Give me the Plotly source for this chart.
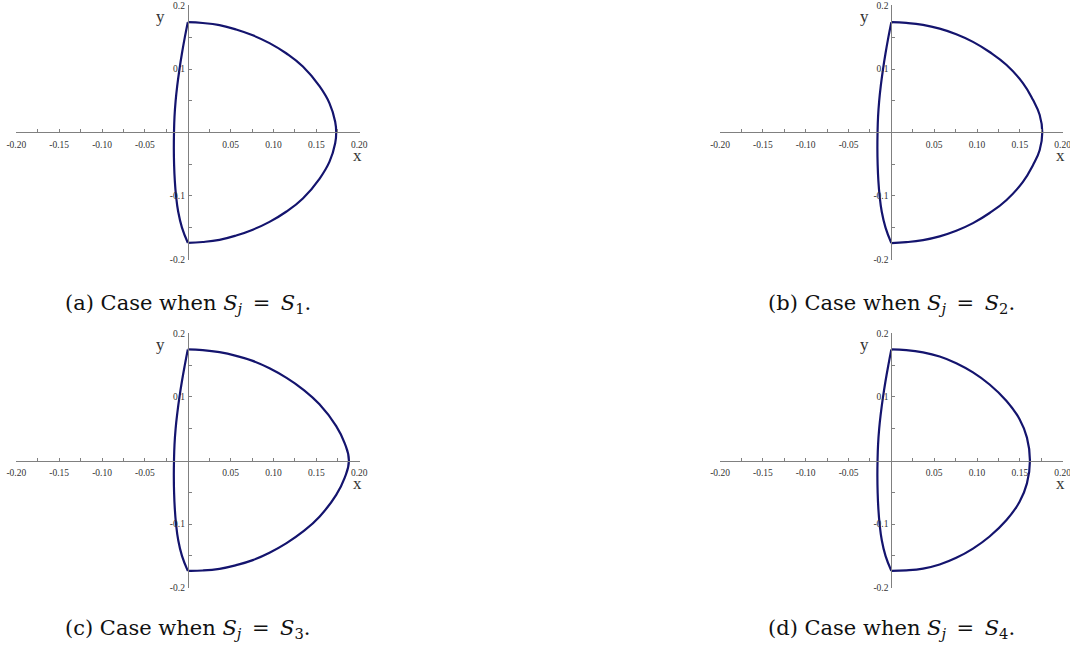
import plotly.graph_objects as go

# ---------------- data ----------------
# Panel (a): S_j = S_1
a_right_x = [0.0, 0.0175, 0.0370, 0.0564, 0.0758, 0.0953, 0.1147, 0.1342, 0.1536, 0.1653, 0.1719, 0.1731,
             0.1719, 0.1653, 0.1536, 0.1342, 0.1147, 0.0953, 0.0758, 0.0564, 0.0370, 0.0175, 0.0]
a_right_y = [0.174, 0.1727, 0.1693, 0.1625, 0.1533, 0.1410, 0.1250, 0.1040, 0.0730, 0.0460, 0.0170, 0.0,
             -0.0170, -0.0460, -0.0730, -0.1040, -0.1250, -0.1410, -0.1533, -0.1625, -0.1693, -0.1727, -0.174]
a_left_x = [0.0, -0.0035, -0.0068, -0.0097, -0.0122, -0.0142, -0.0155, -0.0161, -0.0163, -0.0160, -0.0152,
            -0.0137, -0.0112, -0.0068, 0.0]
a_left_y = [0.174, 0.15, 0.125, 0.10, 0.075, 0.05, 0.025, 0.0, -0.025, -0.05, -0.075, -0.10, -0.125, -0.15, -0.174]

# Panel (b): S_j = S_2
b_right_x = [0.0, 0.0175, 0.0370, 0.0564, 0.0758, 0.0953, 0.1147, 0.1342, 0.1536, 0.1653, 0.1731, 0.1762,
             0.1731, 0.1653, 0.1536, 0.1342, 0.1147, 0.0953, 0.0758, 0.0564, 0.0370, 0.0175, 0.0]
b_right_y = [0.174, 0.1728, 0.1697, 0.1638, 0.1550, 0.1430, 0.1270, 0.1068, 0.0780, 0.0515, 0.0279, 0.0,
             -0.0279, -0.0515, -0.0780, -0.1068, -0.1270, -0.1430, -0.1550, -0.1638, -0.1697, -0.1730, -0.1745]
b_left_x = [0.0, -0.0035, -0.0068, -0.0097, -0.0122, -0.0142, -0.0155, -0.0161, -0.0163, -0.0160, -0.0152,
            -0.0137, -0.0112, -0.0068, 0.0]
b_left_y = [0.174, 0.15, 0.125, 0.10, 0.075, 0.05, 0.025, 0.0, -0.025, -0.05, -0.075, -0.10, -0.125, -0.15, -0.1745]

# Panel (c): S_j = S_3
c_right_x = [0.0, 0.0175, 0.0370, 0.0564, 0.0758, 0.0953, 0.1147, 0.1342, 0.1536, 0.1731, 0.1828, 0.1879,
             0.1828, 0.1731, 0.1536, 0.1342, 0.1147, 0.0953, 0.0758, 0.0564, 0.0370, 0.0175, 0.0]
c_right_y = [0.1746, 0.1735, 0.1703, 0.1646, 0.1567, 0.1451, 0.1304, 0.1120, 0.0883, 0.0541, 0.0278, 0.0,
             -0.0278, -0.0541, -0.0883, -0.1120, -0.1304, -0.1451, -0.1567, -0.1646, -0.1703, -0.1730, -0.1735]
c_left_x = [0.0, -0.0035, -0.0068, -0.0097, -0.0122, -0.0142, -0.0155, -0.0161, -0.0163, -0.0160, -0.0152,
            -0.0137, -0.0112, -0.0068, 0.0]
c_left_y = [0.1746, 0.15, 0.125, 0.10, 0.075, 0.05, 0.025, 0.0, -0.025, -0.05, -0.075, -0.10, -0.125, -0.15, -0.1735]

# Panel (d): S_j = S_4
d_right_x = [0.0, 0.0175, 0.0370, 0.0564, 0.0758, 0.0953, 0.1147, 0.1342, 0.1497, 0.1583, 0.1618,
             0.1583, 0.1497, 0.1342, 0.1147, 0.0953, 0.0758, 0.0564, 0.0370, 0.0175, 0.0]
d_right_y = [0.1746, 0.1735, 0.1700, 0.1635, 0.1530, 0.1385, 0.1195, 0.0940, 0.0650, 0.0360, 0.0,
             -0.0360, -0.0650, -0.0940, -0.1195, -0.1385, -0.1530, -0.1635, -0.1700, -0.1728, -0.1735]
d_left_x = [0.0, -0.0035, -0.0068, -0.0097, -0.0122, -0.0142, -0.0155, -0.0161, -0.0163, -0.0160, -0.0152,
            -0.0137, -0.0112, -0.0068, 0.0]
d_left_y = [0.1746, 0.15, 0.125, 0.10, 0.075, 0.05, 0.025, 0.0, -0.025, -0.05, -0.075, -0.10, -0.125, -0.15, -0.1735]

EQ = "\u2002=\u2002"
captions = [
    "(a) Case when <i>S</i><sub><i>j</i></sub>" + EQ + "<i>S</i><sub>1</sub>.",
    "(b) Case when <i>S</i><sub><i>j</i></sub>" + EQ + "<i>S</i><sub>2</sub>.",
    "(c) Case when <i>S</i><sub><i>j</i></sub>" + EQ + "<i>S</i><sub>3</sub>.",
    "(d) Case when <i>S</i><sub><i>j</i></sub>" + EQ + "<i>S</i><sub>4</sub>.",
]

x_tickvals = [-0.20, -0.15, -0.10, -0.05, 0.05, 0.10, 0.15, 0.20]
x_ticktext = ["-0.20", "-0.15", "-0.10", "-0.05", "0.05", "0.10", "0.15", "0.20"]
x_minor = [-0.175, -0.125, -0.075, -0.025, 0.025, 0.075, 0.125, 0.175]
y_tickvals = [-0.2, -0.1, 0.1, 0.2]
y_ticktext = ["-0.2", "-0.1", "0.1", "0.2"]
y_minor = [-0.15, -0.05, 0.05, 0.15]

# ---------------- layout geometry ----------------
W, H = 1070, 649
LINE = "#14146e"
AX = "#808080"
SERIF = "Liberation Serif"

panels = [
    dict(rx=a_right_x, ry=a_right_y, lx=a_left_x, ly=a_left_y, xd=[0.01486, 0.33617], yd=[0.6000, 0.99168]),
    dict(rx=b_right_x, ry=b_right_y, lx=b_left_x, ly=b_left_y, xd=[0.67252, 0.99355], yd=[0.6000, 0.99168]),
    dict(rx=c_right_x, ry=c_right_y, lx=c_left_x, ly=c_left_y, xd=[0.01486, 0.33617], yd=[0.09399, 0.48690]),
    dict(rx=d_right_x, ry=d_right_y, lx=d_left_x, ly=d_left_y, xd=[0.67252, 0.99355], yd=[0.09399, 0.48690]),
]
caption_y = [1 - 304 / H, 1 - 304 / H, 1 - 629 / H, 1 - 629 / H]

fig = go.Figure()
layout = dict(
    width=W, height=H, margin=dict(l=0, r=0, t=0, b=0, autoexpand=False),
    paper_bgcolor="white", plot_bgcolor="white", showlegend=False,
)
annotations = []
RNG = [-0.2005, 0.2005]

for i, p in enumerate(panels):
    n = "" if i == 0 else str(i + 1)
    xa, ya = "x" + n, "y" + n
    for xs, ys in ((p["rx"], p["ry"]), (p["lx"], p["ly"])):
        fig.add_trace(go.Scatter(x=xs, y=ys, mode="lines", xaxis=xa, yaxis=ya,
                                 line=dict(color=LINE, width=2.2, shape="spline", smoothing=1.3),
                                 hoverinfo="skip"))
    xpos = (p["yd"][0] + p["yd"][1]) / 2
    ypos = (p["xd"][0] + p["xd"][1]) / 2
    layout["xaxis" + n] = dict(
        domain=p["xd"], range=RNG, anchor="free", position=xpos, automargin=False,
        showline=True, linecolor=AX, linewidth=1, showgrid=False, zeroline=False,
        tickmode="array", tickvals=x_tickvals, ticktext=x_ticktext, ticklabeloverflow="allow",
        ticks="inside", ticklen=3, tickcolor=AX, tickwidth=1, ticklabelstandoff=3,
        minor=dict(tickmode="array", tickvals=x_minor, ticks="inside", ticklen=3, tickcolor=AX, showgrid=False),
        tickfont=dict(family=SERIF, size=9.5, color="#333333"), fixedrange=True,
    )
    layout["yaxis" + n] = dict(
        domain=p["yd"], range=RNG, anchor="free", position=ypos, automargin=False,
        showline=True, linecolor=AX, linewidth=1, showgrid=False, zeroline=False,
        tickmode="array", tickvals=y_tickvals, ticktext=y_ticktext, ticklabeloverflow="allow",
        ticks="inside", ticklen=3, tickcolor=AX, tickwidth=1, ticklabelstandoff=1,
        minor=dict(tickmode="array", tickvals=y_minor, ticks="inside", ticklen=3, tickcolor=AX, showgrid=False),
        tickfont=dict(family=SERIF, size=9.5, color="#333333"), fixedrange=True,
    )
    # axis letters
    annotations.append(dict(text="x", xref=xa, yref="paper", x=0.2, y=xpos, yshift=-23, xshift=-2,
                            xanchor="center", yanchor="middle",
                            showarrow=False, font=dict(family=SERIF, size=17, color="#333333")))
    annotations.append(dict(text="y", xref="paper", yref=ya, x=ypos, y=0.2, xshift=-27, yshift=-11,
                            xanchor="center", yanchor="middle",
                            showarrow=False, font=dict(family=SERIF, size=17, color="#333333")))
    annotations.append(dict(text=captions[i], xref="paper", yref="paper", x=ypos, y=caption_y[i],
                            xanchor="center", yanchor="middle",
                            showarrow=False, font=dict(family="DejaVu Serif", size=21, color="#111111")))

layout["annotations"] = annotations
fig.update_layout(**layout)
fig.write_html("out.html", config={"displayModeBar": False},
               post_script="document.body.style.margin='0';")
